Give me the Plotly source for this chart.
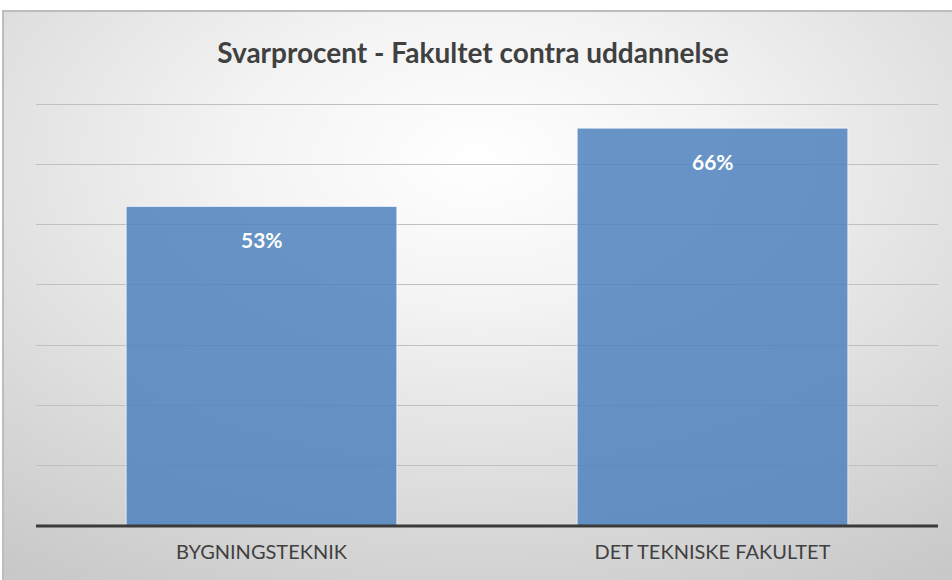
import base64
import plotly.graph_objects as go

categories = ["BYGNINGSTEKNIK", "DET TEKNISKE FAKULTET"]
values = [0.53, 0.66]
labels = ["53%", "66%"]
title_text = "Svarprocent - Fakultet contra uddannelse"

W, H = 952, 580
L, R, T, B = 36, 14, 101, 54
pw, ph = W - L - R, H - T - B

FW, FH = 960, 580  # frame size (extends past right/bottom edges)
svg = (
    f'<svg xmlns="http://www.w3.org/2000/svg" width="{FW}" height="{FH}" viewBox="0 0 {FW} {FH}" preserveAspectRatio="none">'
    '<defs><radialGradient id="g" cx="49%" cy="25%" r="85%" fx="49%" fy="25%">'
    '<stop offset="0" stop-color="#ffffff"/><stop offset="0.3" stop-color="#f3f3f3"/>'
    '<stop offset="1" stop-color="#c8c8c8"/></radialGradient></defs>'
    f'<rect x="1" y="1" width="{FW + 10}" height="{FH + 10}" fill="url(#g)" stroke="#bdbdbd" stroke-width="2"/></svg>'
)
src = "data:image/svg+xml;base64," + base64.b64encode(svg.encode()).decode()

fig = go.Figure()
fig.add_trace(go.Bar(
    x=categories, y=values,
    marker=dict(color="rgba(79,129,189,0.85)", line=dict(color="rgba(255,255,255,0.6)", width=1)),
    width=0.6, hoverinfo="skip",
))
for c, v, t in zip(categories, values, labels):
    fig.add_annotation(x=c, y=v, text=t, showarrow=False, yshift=-33,
                       font=dict(family="Lato", size=21, color="white", weight="bold"))

fig.add_layout_image(dict(
    source=src, xref="paper", yref="paper",
    x=(2 - L) / pw, y=(H - B - 10) / ph,
    sizex=FW / pw, sizey=FH / ph, sizing="stretch",
    xanchor="left", yanchor="top", layer="below",
))

fig.update_layout(
    width=W, height=H,
    margin=dict(l=L, r=R, t=T, b=B),
    paper_bgcolor="white", plot_bgcolor="rgba(0,0,0,0)",
    showlegend=False,
    title=dict(text=title_text, x=473 / W, xanchor="center", y=1 - 53 / H, yanchor="middle",
               font=dict(family="Lato", size=28, color="#404040", weight="bold")),
    xaxis=dict(showgrid=False, showline=False, ticks="",
               tickfont=dict(family="Lato", size=20, color="#404040"),
               ticklabelstandoff=12),
    yaxis=dict(range=[0, 0.705], dtick=0.1, showgrid=True, gridcolor="#c0c0c0", gridwidth=1,
               showticklabels=False, zeroline=False, showline=False, ticks=""),
)
fig.add_shape(type="line", xref="paper", yref="paper", x0=0, x1=1, y0=0, y1=0,
              line=dict(color="#3a3a3a", width=3))
fig.write_html("out.html", config={"displayModeBar": False},
               post_script="document.body.style.margin='0';")
